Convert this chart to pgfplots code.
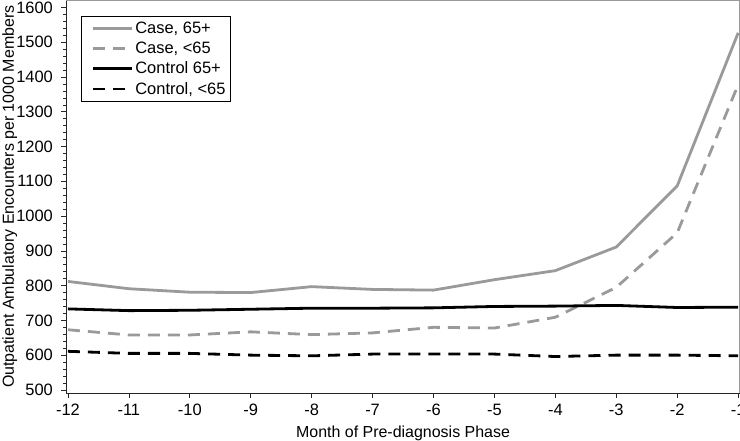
\documentclass[border=0pt]{standalone}
\usepackage{pgfplots}
\pgfplotsset{compat=1.18}
\usepackage{fontspec}
\setmainfont{Liberation Sans}
\definecolor{cgray}{HTML}{9A9A9A}
\begin{document}
\begin{tikzpicture}
\begin{axis}[
  scale only axis, width=673bp, height=392bp,
  xmin=-12.03, xmax=-0.97, ymin=491, ymax=1620,
  axis x line*=bottom, axis y line*=left,
  axis line style={black!85, line width=0.7pt},
  xtick={-12,...,-1}, ytick={500,600,...,1600},
  minor y tick num=4,
  tick align=outside, tick style={black!85, line width=0.6pt},
  major tick length=5bp, minor tick length=3bp,
  tick label style={font=\fontsize{16.5}{19}\selectfont},
  yticklabel style={inner sep=0pt, xshift=-8bp},
  xticklabel style={inner sep=0pt, yshift=-6bp},
  /pgf/number format/assume math mode=true,
  /pgf/number format/1000 sep={},
  xlabel={Month of Pre-diagnosis Phase},
  ylabel={Outpatient Ambulatory Encounters per 1000 Members},
  label style={font=\fontsize{16}{19}\selectfont, inner sep=0pt},
  xlabel style={at={(rel axis cs:0.5,0)}, anchor=base, yshift=-44bp},
  ylabel style={at={(rel axis cs:0,0.5)}, anchor=north, yshift=64bp},
  legend style={at={(rel axis cs:0,1)}, anchor=north west, xshift=15bp, yshift=-15bp,
    draw=black, line width=0.7pt,
    font=\fontsize{16.5}{19}\selectfont, row sep=3bp, inner xsep=3bp, inner ysep=4bp,
    /tikz/every even column/.append style={column sep=4bp}},
  legend cell align=left,
  legend image code/.code={\path (0bp,0bp); \draw[#1] (7bp,0bp) -- (46bp,0bp);},
  every axis plot/.append style={line width=2.8bp},
]
\addplot[cgray] coordinates {(-12,812) (-11,791) (-10,781) (-9,780) (-8,797) (-7,789) (-6,787) (-5,817) (-4,843) (-3,911) (-2,1087) (-1,1527)};
\addlegendentry{Case, 65+}
\addplot[cgray, dash pattern=on 12bp off 8bp] coordinates {(-12,673) (-11,658) (-10,658) (-9,667) (-8,659) (-7,664) (-6,680) (-5,678) (-4,709) (-3,795) (-2,952) (-1,1378)};
\addlegendentry{Case, <65}
\addplot[black] coordinates {(-12,733) (-11,728) (-10,729) (-9,732) (-8,735) (-7,735) (-6,736) (-5,740) (-4,741) (-3,743) (-2,737) (-1,738)};
\addlegendentry{Control 65+}
\addplot[black, dash pattern=on 12bp off 8bp] coordinates {(-12,611) (-11,605) (-10,605) (-9,600) (-8,598) (-7,603) (-6,603) (-5,603) (-4,596) (-3,600) (-2,600) (-1,598)};
\addlegendentry{Control, <65}
\coordinate (sw) at (rel axis cs:0,0);
\coordinate (ne) at (rel axis cs:1,1);
\end{axis}
\draw[cgray, line width=1.6pt] (sw |- ne) -- (ne) -- (ne |- sw);
\pgfresetboundingbox
\path ([xshift=-66bp,yshift=-47bp]sw) rectangle ([yshift=0.5bp]ne);
\end{tikzpicture}
\end{document}
